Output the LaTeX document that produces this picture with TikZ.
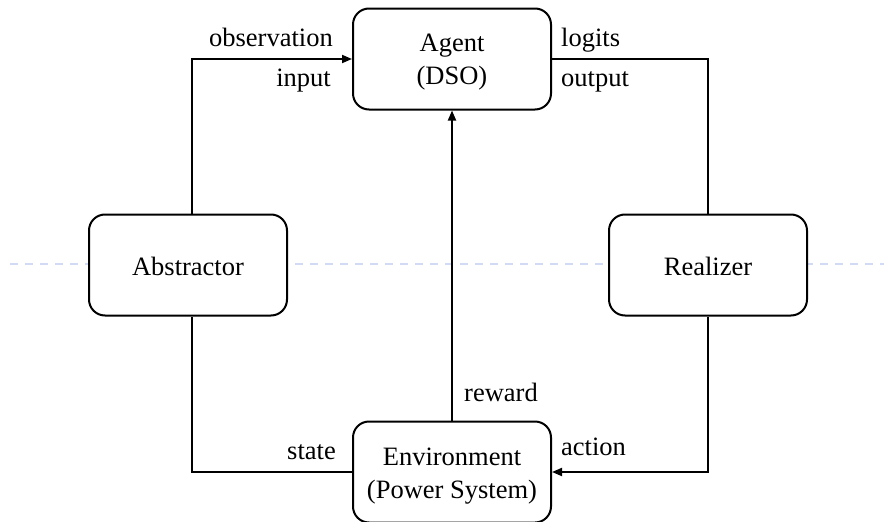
\documentclass[tikz,border=0pt]{standalone}
\usepackage{fontspec}
\setmainfont{Liberation Serif}
\usetikzlibrary{arrows.meta}
\begin{document}
\begin{tikzpicture}[x=1pt,y=-1pt,
  box/.style={draw=black,line width=2pt,rounded corners=16pt,fill=white,minimum width=198pt,minimum height=101pt,inner sep=0pt},
  txt/.style={align=center,font=\fontsize{26.5}{33}\selectfont,inner sep=0pt},
  lbl/.style={font=\fontsize{26.5}{33}\selectfont,inner sep=0pt},
  conn/.style={line width=1.8pt},
  tip/.style={-{Triangle[length=10pt,width=8pt]}}]
\useasboundingbox (0,0) rectangle (884,522);
\clip (0,0) rectangle (884,522);
\draw[draw={rgb,255:red,210;green,218;blue,244},line width=1.6pt,dash pattern=on 8pt off 7pt] (10,264) -- (884,264);
\node[box] (agent) at (452,59) {};
\node[txt] (agentt) at (452,62) {Agent\\(DSO)};
\node[box] (abs) at (188,265) {};
\node[txt] (abst) at (188,266) {Abstractor};
\node[box] (real) at (708,265) {};
\node[txt] (realt) at (708,266) {Realizer};
\node[box] (env) at (452,472) {};
\node[txt] (envt) at (452,476) {Environment\\(Power System)};
\draw[conn,tip] ([xshift=4pt]abs.north) |- (agent.west);
\draw[conn] (agent.east) -| (real.north);
\draw[conn,tip] (real.south) |- (env.east);
\draw[conn] (env.west) -| ([xshift=4pt]abs.south);
\draw[conn,tip] (env.north) -- (agent.south);
\node[lbl,anchor=base east] (obs) at (333,46) {observation};
\node[lbl,anchor=base east] (inp) at (331,86) {input};
\node[lbl,anchor=base west] (log) at (561,46) {logits};
\node[lbl,anchor=base west] (out) at (561,86) {output};
\node[lbl,anchor=base west] (rew) at (464,401) {reward};
\node[lbl,anchor=base east] (st) at (336,459) {state};
\node[lbl,anchor=base west] (act) at (561,455) {action};
\end{tikzpicture}
\end{document}
